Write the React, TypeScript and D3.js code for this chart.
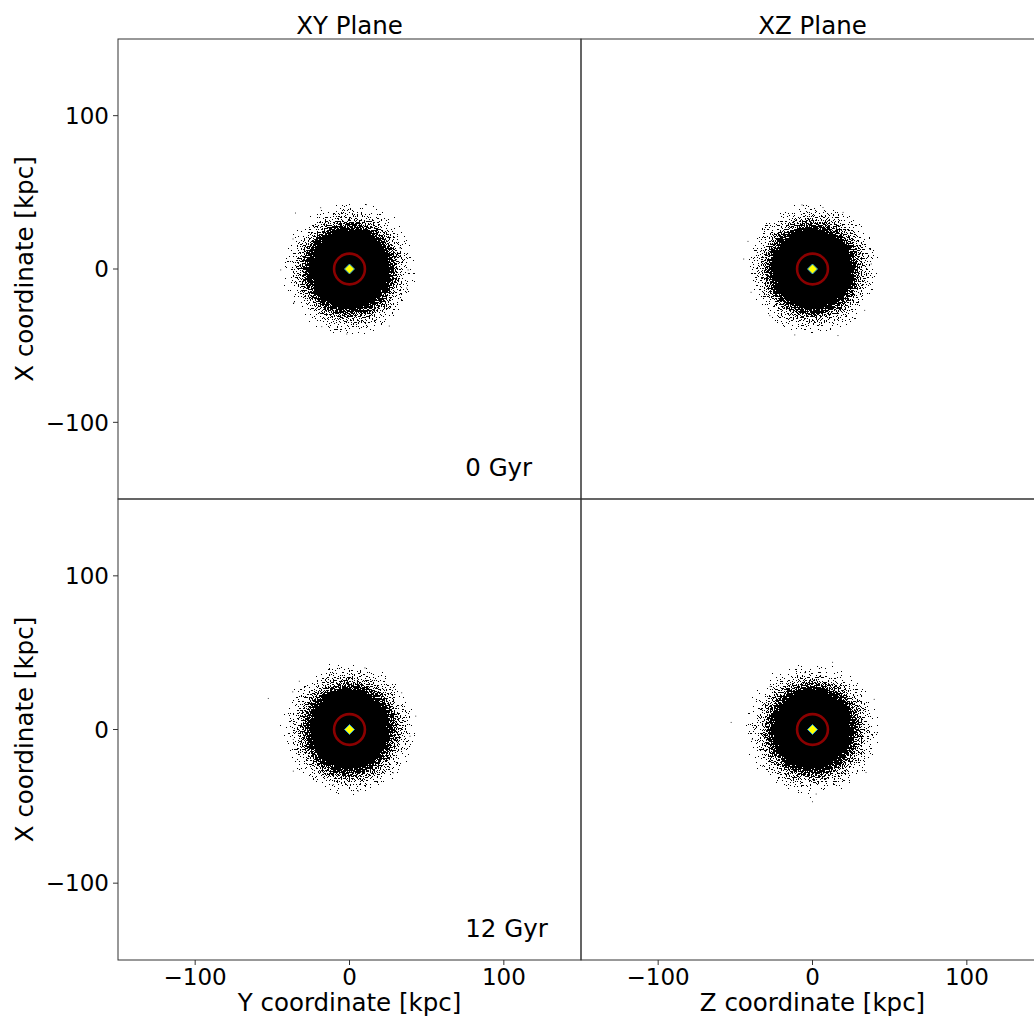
import React from 'react';
import * as d3 from 'd3';

// ---------- data ----------
const planeTitles = ['XY Plane', 'XZ Plane'];
const horizontalAxisLabels = ['Y coordinate [kpc]', 'Z coordinate [kpc]'];
const verticalAxisLabel = 'X coordinate [kpc]';
const snapshotLabels = ['0 Gyr', '12 Gyr'];
const tickValues = [-100, 0, 100];
const axisDomain: [number, number] = [-150, 150];

// radial surface density of the particle cloud
const densityRadiusKpc = [0, 23, 26, 29, 32, 35, 38, 42, 46];
const densityLevel = [1, 1, 0.72, 0.56, 0.45, 0.36, 0.28, 0.2, 0];

const centreKpc: [number, number] = [0, 0];
const markerCircleRadiusKpc = 10;

// isolated particles visible outside the dense cloud [horizontal, vertical] in kpc
const outliersXY0: [number, number][] = [
  [-35, 36.5], [-44.6, -0.6], [11, 42], [-18.7, 40], [-36.6, 19.6], [37, -12.4],
  [32.7, 13.7], [-1.8, -42.4], [-18, -37.6], [25.8, -37.2], [-36, -22], [38, -0.6],
];
const outliersXZ0: [number, number][] = [
  [-6.8, 41.8], [-41.8, 18], [-44.6, 6.5], [-39.8, -15.2], [-27.7, -30.4], [-11.5, -43],
  [16.5, -43.4], [33.8, -27], [38.1, 3.3], [37, 13], [19.8, 36.9], [6.8, 40.1],
];
const outliersXY12: [number, number][] = [
  [-52.6, 20.2], [-36.8, 24.5], [-32.5, 31.4], [10, 40.1], [33.8, 23.9], [42.9, 8.7],
  [39.2, -4.4], [-36.4, -27.1], [-36.4, -6.5], [5.7, -40.1], [-10.5, -35.8], [28.4, -28.2],
];
const outliersXZ12: [number, number][] = [
  [-52.7, 4.6], [13, 43.7], [0, -47], [2.4, -42], [40, 19.6], [42, -2],
  [-32.4, -24], [-39, -6.5], [-27.4, 28], [34.7, -28], [-5, 37],
];

// ---------- layout ----------
const W = 1034;
const H = 1019;
const colRanges: [number, number][] = [[118, 581], [581, 1044]];
const rowRanges: [number, number][] = [[499, 39], [960, 499]];
const FONT = '"DejaVu Sans", sans-serif';
const SPINE = '#333';

const panels = [
  { id: 'p00', row: 0, col: 0, outliers: outliersXY0 },
  { id: 'p01', row: 0, col: 1, outliers: outliersXZ0 },
  { id: 'p10', row: 1, col: 0, outliers: outliersXY12 },
  { id: 'p11', row: 1, col: 1, outliers: outliersXZ12 },
];

const diamondPath = d3.symbol().type(d3.symbolSquare).size(50)() as string;

export default function App() {
  const rOuter = densityRadiusKpc[densityRadiusKpc.length - 1];
  return (
    <svg
      width={W}
      height={H}
      viewBox={`0 0 ${W} ${H}`}
      style={{ position: 'absolute', left: 0, top: 0, display: 'block', background: '#fff' }}
      fontFamily={FONT}
    >
      <defs>
        <filter id="speckle" filterUnits="userSpaceOnUse" x={0} y={0} width={W} height={H}>
          <feTurbulence type="fractalNoise" baseFrequency="0.75" numOctaves={2} seed={7} result="noise" />
          <feColorMatrix in="noise" type="matrix"
            values="0 0 0 0 0  0 0 0 0 0  0 0 0 0 0  1 0 0 0 0" result="nA" />
          <feComponentTransfer in="nA" result="nS">
            <feFuncA type="linear" slope="1.5" intercept="-0.25" />
          </feComponentTransfer>
          <feComposite in="SourceGraphic" in2="nS" operator="arithmetic" k1="0" k2="1.1" k3="-1" k4="0.45" result="diff" />
          <feComponentTransfer in="diff" result="th">
            <feFuncA type="discrete" tableValues="0 1" />
          </feComponentTransfer>
          <feFlood floodColor="#000" result="blk" />
          <feComposite in="blk" in2="th" operator="in" />
        </filter>
        {panels.map((p) => {
          const x = d3.scaleLinear().domain(axisDomain).range(colRanges[p.col]);
          const y = d3.scaleLinear().domain(axisDomain).range(rowRanges[p.row]);
          const cx = x(centreKpc[0]);
          const cy = y(centreKpc[1]);
          const rPx = x(rOuter) - x(0);
          return (
            <React.Fragment key={p.id}>
              <clipPath id={`clip-${p.id}`}>
                <rect x={colRanges[p.col][0]} y={rowRanges[p.row][1]}
                  width={colRanges[p.col][1] - colRanges[p.col][0]}
                  height={rowRanges[p.row][0] - rowRanges[p.row][1]} />
              </clipPath>
              <radialGradient id={`grad-${p.id}`} gradientUnits="userSpaceOnUse" cx={cx} cy={cy} r={rPx}>
                {densityRadiusKpc.map((r, i) => (
                  <stop key={i} offset={r / rOuter} stopColor="#000" stopOpacity={densityLevel[i]} />
                ))}
              </radialGradient>
            </React.Fragment>
          );
        })}
      </defs>

      {panels.map((p) => {
        const x = d3.scaleLinear().domain(axisDomain).range(colRanges[p.col]);
        const y = d3.scaleLinear().domain(axisDomain).range(rowRanges[p.row]);
        const [x0, x1] = colRanges[p.col];
        const [yb, yt] = rowRanges[p.row];
        const cx = x(centreKpc[0]);
        const cy = y(centreKpc[1]);
        const rPx = x(rOuter) - x(0);
        return (
          <g key={p.id}>
            <g clipPath={`url(#clip-${p.id})`}>
              <circle cx={cx} cy={cy} r={rPx} fill={`url(#grad-${p.id})`} filter="url(#speckle)" />
              {p.outliers.map((d, i) => (
                <rect key={i} x={x(d[0]) - 0.5} y={y(d[1]) - 0.5} width={1} height={1} fill="#000" fillOpacity={0.75} />
              ))}
              <ellipse cx={cx} cy={cy}
                rx={x(markerCircleRadiusKpc) - x(0)} ry={y(0) - y(markerCircleRadiusKpc)}
                fill="none" stroke="#8b0000" strokeWidth={2.6} />
              <path d={diamondPath} transform={`translate(${cx},${cy}) rotate(45)`}
                fill="#ffff00" stroke="#1f9bd6" strokeWidth={0.9} />
            </g>
            <rect x={x0} y={yt} width={x1 - x0} height={yb - yt} fill="none" stroke={SPINE} strokeWidth={1} />
            {p.col === 0 && tickValues.map((t) => (
              <g key={`yt${t}`}>
                <line x1={x0 - 5} x2={x0} y1={y(t)} y2={y(t)} stroke={SPINE} strokeWidth={1} />
                <text x={x0 - 9} y={y(t)} dy="0.36em" textAnchor="end" fontSize={23} fill="#000">
                  {d3.format('')(t)}
                </text>
              </g>
            ))}
            {p.row === 1 && tickValues.map((t) => (
              <g key={`xt${t}`}>
                <line x1={x(t)} x2={x(t)} y1={yb} y2={yb + 5} stroke={SPINE} strokeWidth={1} />
                <text x={x(t)} y={yb + 25} textAnchor="middle" fontSize={23} fill="#000">
                  {d3.format('')(t)}
                </text>
              </g>
            ))}
            {p.row === 0 && (
              <text x={(x0 + x1) / 2} y={34} textAnchor="middle" fontSize={24.5} fill="#000">
                {planeTitles[p.col]}
              </text>
            )}
            {p.row === 1 && (
              <text x={(x0 + x1) / 2} y={1011} textAnchor="middle" fontSize={24.5} fill="#000">
                {horizontalAxisLabels[p.col]}
              </text>
            )}
            {p.col === 0 && (
              <text transform={`translate(33,${(yb + yt) / 2}) rotate(-90)`} textAnchor="middle" fontSize={24.5} fill="#000">
                {verticalAxisLabel}
              </text>
            )}
            {p.col === 0 && (
              <text x={x(75)} y={y(-135)} fontSize={24.5} fill="#000">
                {snapshotLabels[p.row]}
              </text>
            )}
          </g>
        );
      })}
    </svg>
  );
}
